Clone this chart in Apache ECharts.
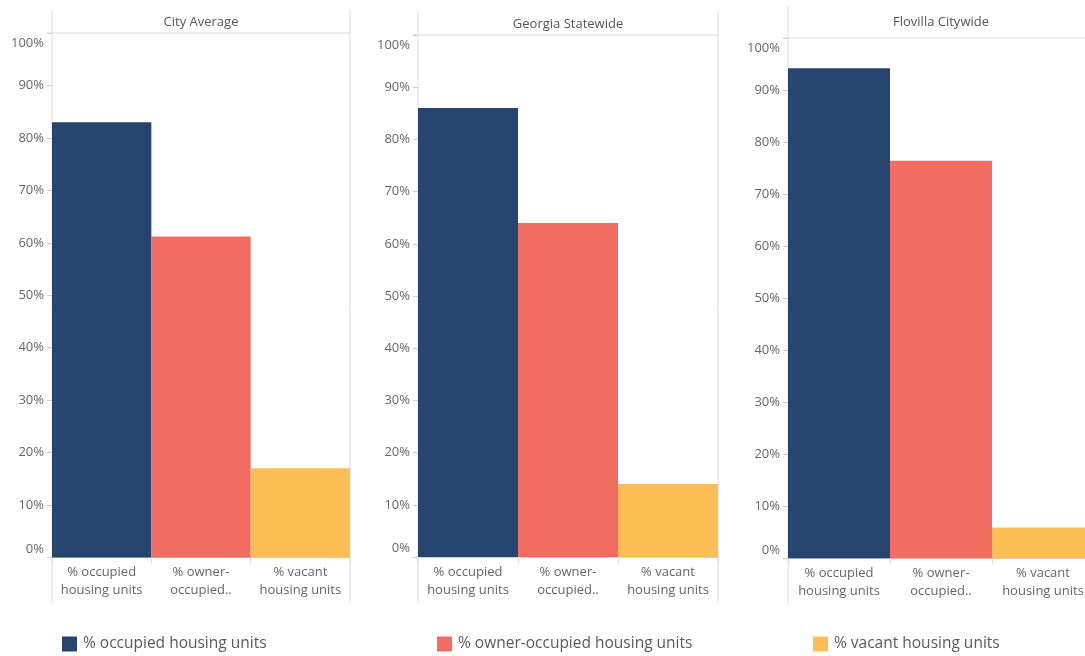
<!DOCTYPE html>
<html>
<head>
<meta charset="utf-8">
<script src="https://cdn.jsdelivr.net/npm/echarts@6/dist/echarts.min.js"></script>
<style>
html,body{margin:0;padding:0;background:#fff;overflow:hidden;}
#chart{width:1096px;height:656px;}
</style>
</head>
<body>
<div id="chart"></div>
<script>
// ---- data ----
var categories = ['% occupied housing units', '% owner-occupied housing units', '% vacant housing units'];
var tickLabels = ['% occupied\nhousing units', '% owner-\noccupied..', '% vacant\nhousing units'];
var panelTitles = ['City Average', 'Georgia Statewide', 'Flovilla Citywide'];
var cityAverage = [83.0, 61.2, 17.0];
var georgiaStatewide = [86.0, 64.0, 14.0];
var flovillaCitywide = [94.2, 76.4, 5.9];
var yTicks = [0, 10, 20, 30, 40, 50, 60, 70, 80, 90, 100];

var panelValues = [cityAverage, georgiaStatewide, flovillaCitywide];
var colors = ['#26456e', '#f16c61', '#ffbe55'];

// ---- layout ----
var layout = [
  {left: 52, right: 350, top: 33, bottom: 557.5, headTop: 10, lineBottom: 603},
  {left: 418, right: 718, top: 35, bottom: 557, headTop: 12, lineBottom: 603},
  {left: 788, right: 1094, top: 38, bottom: 558.3, headTop: 6, lineBottom: 605}
];
var FONT = '"Open Sans", "Noto Sans", sans-serif';
var lineColor = '#dcdcdc';

var grids = [], xAxes = [], yAxes = [], series = [], titles = [], graphics = [];
layout.forEach(function (p, g) {
  grids.push({left: p.left, width: p.right - p.left, top: p.top, height: p.bottom - p.top, containLabel: false});
  xAxes.push({
    type: 'category', gridIndex: g, data: categories,
    boundaryGap: true,
    axisLine: {show: true, lineStyle: {color: '#cfcfcf'}},
    axisTick: {show: true, length: 6, lineStyle: {color: '#dcdcdc'}, alignWithLabel: false},
    axisLabel: {
      color: '#666', fontFamily: FONT, fontSize: 13, lineHeight: 18, margin: 6, interval: 0,
      formatter: function (v) { return tickLabels[categories.indexOf(v)]; }
    }
  });
  yAxes.push({
    type: 'value', gridIndex: g, min: 0, max: 100, interval: 10,
    splitLine: {show: false},
    axisLine: {show: false},
    axisTick: {show: true, length: 5, lineStyle: {color: '#cfcfcf'}},
    axisLabel: {
      color: '#666', fontFamily: FONT, fontSize: 13, margin: 8,
      formatter: function (v) {
        if (v === yTicks[0]) return '{lo|' + v + '%}';
        if (v === yTicks[yTicks.length - 1]) return '{hi|' + v + '%}';
        return v + '%';
      },
      rich: {
        lo: {color: '#666', fontFamily: FONT, fontSize: 13, padding: [0, 0, 17, 0]},
        hi: {color: '#666', fontFamily: FONT, fontSize: 13, padding: [20, 0, 0, 0]}
      }
    }
  });
  categories.forEach(function (c, ci) {
    series.push({
      type: 'bar', name: c, xAxisIndex: g, yAxisIndex: g,
      data: panelValues[g].map(function (v, i) { return i === ci ? v : '-'; }),
      barWidth: '100%', barGap: '-100%',
      itemStyle: {color: colors[ci]},
      emphasis: {disabled: true},
      animation: false
    });
  });
  var cx = (p.left + p.right) / 2;
  titles.push({
    text: panelTitles[g],
    left: cx, top: (p.headTop + p.top) / 2 + 0.5, padding: 0,
    textAlign: 'center', textVerticalAlign: 'middle',
    textStyle: {color: '#555', fontFamily: FONT, fontSize: 13, fontWeight: 'normal'}
  });
  graphics.push(
    {type: 'line', shape: {x1: p.left, y1: p.headTop, x2: p.left, y2: p.lineBottom}, style: {stroke: lineColor, lineWidth: 1}, silent: true},
    {type: 'line', shape: {x1: p.right, y1: p.headTop, x2: p.right, y2: p.lineBottom}, style: {stroke: lineColor, lineWidth: 1}, silent: true},
    {type: 'line', shape: {x1: p.left - 5, y1: p.top, x2: p.right, y2: p.top}, style: {stroke: lineColor, lineWidth: 1}, silent: true}
  );
});

var legendLefts = [62, 437, 813];
var legends = categories.map(function (c, i) {
  return {
    data: [c], left: legendLefts[i], top: 636, orient: 'horizontal', padding: 0,
    icon: 'rect', itemWidth: 15, itemHeight: 15, itemGap: 10,
    textStyle: {color: '#5a5a5a', fontFamily: FONT, fontSize: 15.5, padding: [0, 0, 0, 1]},
    selectedMode: false
  };
});

var chart = echarts.init(document.getElementById('chart'), null, {renderer: 'canvas'});
chart.setOption({
  backgroundColor: '#fff',
  animation: false,
  title: titles,
  grid: grids,
  xAxis: xAxes,
  yAxis: yAxes,
  legend: legends,
  series: series,
  graphic: graphics
});
</script>
</body>
</html>
